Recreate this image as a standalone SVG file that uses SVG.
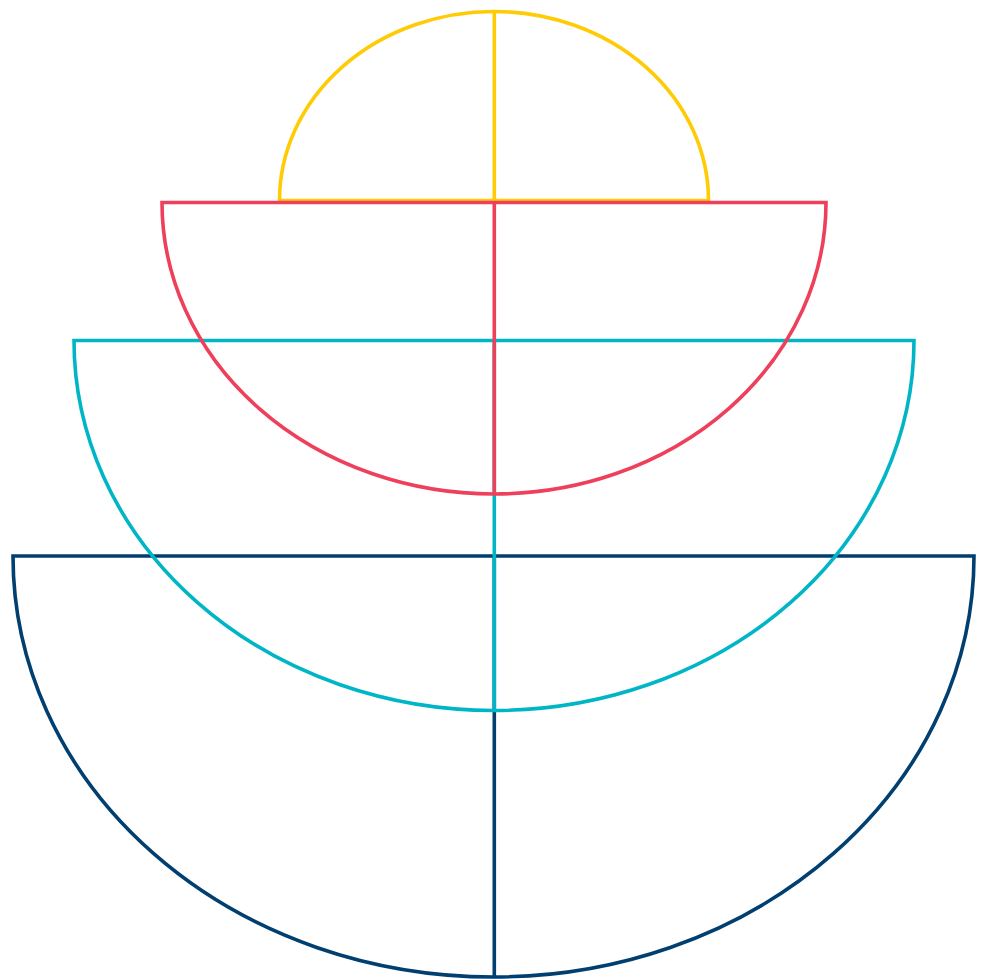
<svg xmlns="http://www.w3.org/2000/svg" width="984" height="979" viewBox="0 0 984 979">
<style>
.s{fill:none;stroke-width:3.6;stroke-linejoin:miter}
.y{stroke:#FFCB05}.r{stroke:#EE3F5B}.c{stroke:#00B6C6}.n{stroke:#003F6F}
</style>
<rect width="984" height="979" fill="#fff"/>
<g id="yellow">
<path class="s y" d="M279.5,200.5 A214.5,189 0 0 1 708.5,200.5 Z"/>
<line class="s y" x1="494.3" y1="11.5" x2="494.3" y2="200.5"/>
</g>
<g id="navy">
<path class="s n" d="M13,556 H974 A480.5,421 0 0 1 13,556 Z"/>
<line class="s n" x1="494.3" y1="556" x2="494.3" y2="977"/>
</g>
<g id="cyan">
<path class="s c" d="M74,340.5 H914 A420,370 0 0 1 74,340.5 Z"/>
<line class="s c" x1="494.3" y1="340.5" x2="494.3" y2="710.5"/>
</g>
<g id="red">
<path class="s r" d="M162,202.5 H826 A332,291.5 0 0 1 162,202.5 Z"/>
<line class="s r" x1="494.3" y1="202.5" x2="494.3" y2="494"/>
</g>
</svg>
